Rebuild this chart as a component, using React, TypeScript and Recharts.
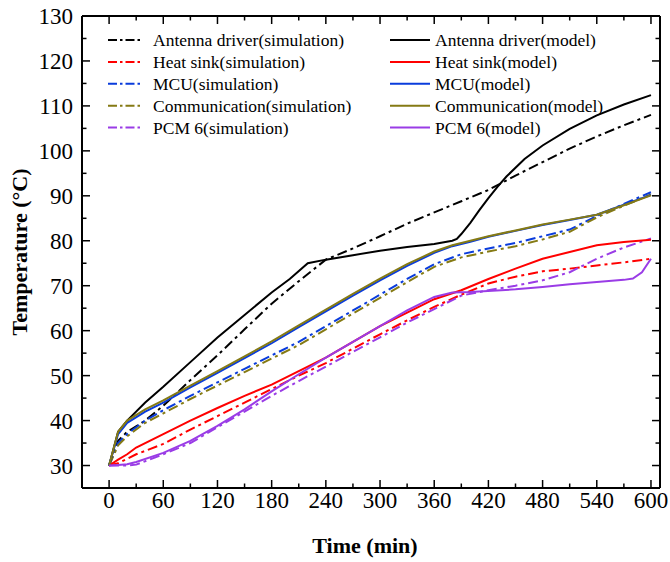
import React from 'react';
import { LineChart, Line, XAxis, YAxis, Legend, Label } from 'recharts';

type Pt = [number, number];

const xTicks = [0, 30, 60, 90, 120, 150, 180, 210, 240, 270, 300, 330, 360, 390, 420, 450, 480, 510, 540, 570, 600];
const yTicks = [30, 35, 40, 45, 50, 55, 60, 65, 70, 75, 80, 85, 90, 95, 100, 105, 110, 115, 120, 125, 130];

const antennaSim: Pt[] = [[0,30],[10,35.5],[20,37.5],[40,40],[60,43.3],[90,49],[120,54.5],[150,60.3],[180,66],[210,71],[240,75.8],[270,78.3],[300,81],[330,83.8],[360,86.3],[390,88.8],[420,91.3],[450,94.5],[480,97.5],[510,100.5],[540,103.2],[570,105.7],[600,108]];
const antennaModel: Pt[] = [[0,30],[10,37.5],[20,40],[40,44],[60,47.5],[90,53],[120,58.5],[150,63.5],[180,68.5],[200,71.5],[220,75],[240,75.8],[270,76.8],[300,77.8],[330,78.6],[360,79.3],[380,80],[385,80.4],[390,81.5],[400,84],[410,86.8],[420,89.5],[430,92],[440,94.3],[460,98.2],[480,101.2],[510,104.9],[540,107.9],[570,110.3],[600,112.4]];
const heatSim: Pt[] = [[0,30],[10,30.5],[20,31.5],[30,32.5],[60,34.8],[90,38],[120,41],[150,44],[180,47],[210,50],[240,52.8],[270,56],[300,59.2],[330,62.3],[360,65.3],[390,68],[420,70.5],[450,72],[480,73.2],[510,73.8],[540,74.5],[570,75.2],[600,76]];
const heatModel: Pt[] = [[0,30],[10,31.3],[20,32.5],[30,34],[60,37],[90,40],[120,42.8],[150,45.5],[180,48],[210,51],[240,54],[270,57.5],[300,61],[330,64],[360,67],[390,69],[420,71.5],[450,73.8],[480,76],[510,77.5],[540,79],[570,79.7],[600,80.2]];
const mcuSim: Pt[] = [[0,30],[10,35],[20,37],[40,40],[60,42.3],[90,45.5],[120,48.5],[150,51.5],[180,54.5],[210,57.5],[240,61],[270,64.5],[300,68],[330,71.5],[360,74.8],[390,77],[420,78.3],[450,79.5],[480,81],[510,82.5],[540,85.5],[570,88.2],[600,90.8]];
const mcuModel: Pt[] = [[0,30],[10,37],[20,39.5],[40,42],[60,44],[90,47.4],[120,50.6],[150,53.9],[180,57.2],[210,60.8],[240,64.3],[270,67.8],[300,71.2],[330,74.4],[360,77.3],[380,78.8],[400,79.8],[420,80.9],[450,82.2],[480,83.5],[510,84.6],[540,85.8],[570,88],[600,90.2]];
const commSim: Pt[] = [[0,30],[10,34.5],[20,36.5],[40,39.5],[60,41.6],[90,44.8],[120,47.8],[150,50.8],[180,53.8],[210,56.8],[240,60.3],[270,63.8],[300,67.3],[330,70.8],[360,74.2],[390,76.3],[420,77.6],[450,78.8],[480,80.3],[510,82],[540,85.2],[570,87.8],[600,90.3]];
const commModel: Pt[] = [[0,30],[10,37.5],[20,40],[40,42.5],[60,44.5],[90,47.8],[120,51],[150,54.3],[180,57.6],[210,61.2],[240,64.7],[270,68.2],[300,71.6],[330,74.8],[360,77.6],[380,79],[400,80],[420,81],[450,82.3],[480,83.6],[510,84.7],[540,85.8],[570,87.9],[600,90.1]];
const pcmSim: Pt[] = [[0,30],[10,30],[20,30],[30,30.2],[60,32.5],[90,35],[120,38.5],[150,42],[180,45.5],[210,48.8],[240,52],[270,55.3],[300,58.5],[330,61.8],[360,64.8],[390,67.8],[420,69],[450,70],[480,71.2],[510,73],[540,76],[570,78.5],[600,80.5]];
const pcmModel: Pt[] = [[0,30],[10,30.1],[20,30.3],[30,30.8],[60,32.8],[90,35.5],[120,38.8],[150,42.5],[180,46.5],[210,50.3],[240,54],[270,57.5],[300,61],[330,64.5],[360,67.5],[380,68.5],[400,68.6],[450,69.2],[480,69.7],[510,70.3],[540,70.8],[570,71.3],[580,71.6],[590,73],[600,76]];

const BLACK = '#000000';
const RED = '#ff0000';
const BLUE = '#0a3cdc';
const OLIVE = '#857a14';
const PURPLE = '#9a3ce6';
const DASH = '10 4 3 4';
const FONT = "'Liberation Serif', 'Times New Roman', serif";

const simSeries = [
  { name: 'Antenna driver(simulation)', color: BLACK, data: antennaSim },
  { name: 'Heat sink(simulation)', color: RED, data: heatSim },
  { name: 'MCU(simulation)', color: BLUE, data: mcuSim },
  { name: 'Communication(simulation)', color: OLIVE, data: commSim },
  { name: 'PCM 6(simulation)', color: PURPLE, data: pcmSim },
];
const modelSeries = [
  { name: 'Antenna driver(model)', color: BLACK, data: antennaModel },
  { name: 'Heat sink(model)', color: RED, data: heatModel },
  { name: 'MCU(model)', color: BLUE, data: mcuModel },
  { name: 'Communication(model)', color: OLIVE, data: commModel },
  { name: 'PCM 6(model)', color: PURPLE, data: pcmModel },
];

const toRows = (d: Pt[]) => d.map(([t, v]) => ({ t, v }));

const BottomTick = (p: any) => {
  const { x, y, payload } = p;
  const major = payload.value % 60 === 0;
  return (
    <g>
      <line x1={x} x2={x} y1={y} y2={y - (major ? 8 : 4.5)} stroke="#000" strokeWidth={1.5} />
      {major && (
        <text x={x} y={y + 20} textAnchor="middle" fontSize={23} fontFamily={FONT} fill="#000">
          {payload.value}
        </text>
      )}
    </g>
  );
};
const TopTick = (p: any) => {
  const { x, y, payload } = p;
  const major = payload.value % 60 === 0;
  return <line x1={x} x2={x} y1={y} y2={y + (major ? 8 : 4.5)} stroke="#000" strokeWidth={1.5} />;
};
const LeftTick = (p: any) => {
  const { x, y, payload } = p;
  const major = payload.value % 10 === 0;
  return (
    <g>
      <line x1={x} x2={x + (major ? 8 : 4.5)} y1={y} y2={y} stroke="#000" strokeWidth={1.5} />
      {major && (
        <text x={x - 9} y={y + 8} textAnchor="end" fontSize={23} fontFamily={FONT} fill="#000">
          {payload.value}
        </text>
      )}
    </g>
  );
};
const RightTick = (p: any) => {
  const { x, y, payload } = p;
  const major = payload.value % 10 === 0;
  return <line x1={x} x2={x - (major ? 8 : 4.5)} y1={y} y2={y} stroke="#000" strokeWidth={1.5} />;
};

const renderLegend = () => (
  <svg width={670} height={145} style={{ display: 'block' }}>
    {simSeries.map((s, i) => {
      const y = 40 + i * 21.9;
      return (
        <g key={s.name}>
          <line x1={108} x2={143} y1={y} y2={y} stroke={s.color} strokeWidth={2} strokeDasharray="9 3 2.5 3" />
          <text x={153} y={y + 6} fontSize={17.5} fontFamily={FONT} fill="#000">{s.name}</text>
        </g>
      );
    })}
    {modelSeries.map((s, i) => {
      const y = 40 + i * 21.9;
      return (
        <g key={s.name}>
          <line x1={390} x2={430} y1={y} y2={y} stroke={s.color} strokeWidth={2} />
          <text x={435} y={y + 6} fontSize={17.5} fontFamily={FONT} fill="#000">{s.name}</text>
        </g>
      );
    })}
  </svg>
);

export default function App() {
  return (
    <div style={{ position: 'absolute', left: 0, top: 0, background: '#fff' }}>
      <LineChart width={670} height={562} margin={{ top: 0, right: 0, bottom: 0, left: 0 }}>
        <XAxis
          xAxisId="b"
          type="number"
          dataKey="t"
          domain={[-30, 610]}
          ticks={xTicks}
          interval={0}
          allowDataOverflow
          height={74}
          tickSize={0}
          tickMargin={0}
          tickLine={false}
          tick={BottomTick}
          axisLine={{ stroke: '#000', strokeWidth: 2 }}
        >
          <Label
            content={() => (
              <text x={365} y={553} textAnchor="middle" fontSize={22} fontWeight="bold" fontFamily={FONT} fill="#000">
                Time (min)
              </text>
            )}
          />
        </XAxis>
        <XAxis
          xAxisId="t"
          orientation="top"
          type="number"
          dataKey="t"
          domain={[-30, 610]}
          ticks={xTicks}
          interval={0}
          allowDataOverflow
          height={16}
          tickSize={0}
          tickMargin={0}
          tickLine={false}
          tick={TopTick}
          axisLine={{ stroke: '#000', strokeWidth: 2 }}
        />
        <YAxis
          yAxisId="l"
          type="number"
          domain={[25, 130]}
          ticks={yTicks}
          interval={0}
          allowDataOverflow
          width={82}
          tickSize={0}
          tickMargin={0}
          tickLine={false}
          tick={LeftTick}
          axisLine={{ stroke: '#000', strokeWidth: 2 }}
        >
          <Label
            content={() => (
              <text
                x={27}
                y={252}
                transform="rotate(-90 27 252)"
                textAnchor="middle"
                fontSize={22}
                fontWeight="bold"
                fontFamily={FONT}
                fill="#000"
              >
                Temperature (°C)
              </text>
            )}
          />
        </YAxis>
        <YAxis
          yAxisId="r"
          orientation="right"
          type="number"
          domain={[25, 130]}
          ticks={yTicks}
          interval={0}
          allowDataOverflow
          width={10}
          tickSize={0}
          tickMargin={0}
          tickLine={false}
          tick={RightTick}
          axisLine={{ stroke: '#000', strokeWidth: 2 }}
        />
        <Legend
          layout="horizontal"
          verticalAlign="middle"
          align="center"
          content={renderLegend}
          wrapperStyle={{ position: 'absolute', left: 0, top: 0, width: 670, height: 145, pointerEvents: 'none' }}
        />
        {simSeries.map((s) => (
          <Line
            key={s.name}
            xAxisId="b"
            yAxisId="l"
            data={toRows(s.data)}
            dataKey="v"
            name={s.name}
            type="linear"
            stroke={s.color}
            strokeWidth={2}
            strokeDasharray={DASH}
            dot={false}
            activeDot={false}
            isAnimationActive={false}
          />
        ))}
        {modelSeries.map((s) => (
          <Line
            key={s.name}
            xAxisId="b"
            yAxisId="l"
            data={toRows(s.data)}
            dataKey="v"
            name={s.name}
            type="linear"
            stroke={s.color}
            strokeWidth={2}
            dot={false}
            activeDot={false}
            isAnimationActive={false}
          />
        ))}
      </LineChart>
    </div>
  );
}
